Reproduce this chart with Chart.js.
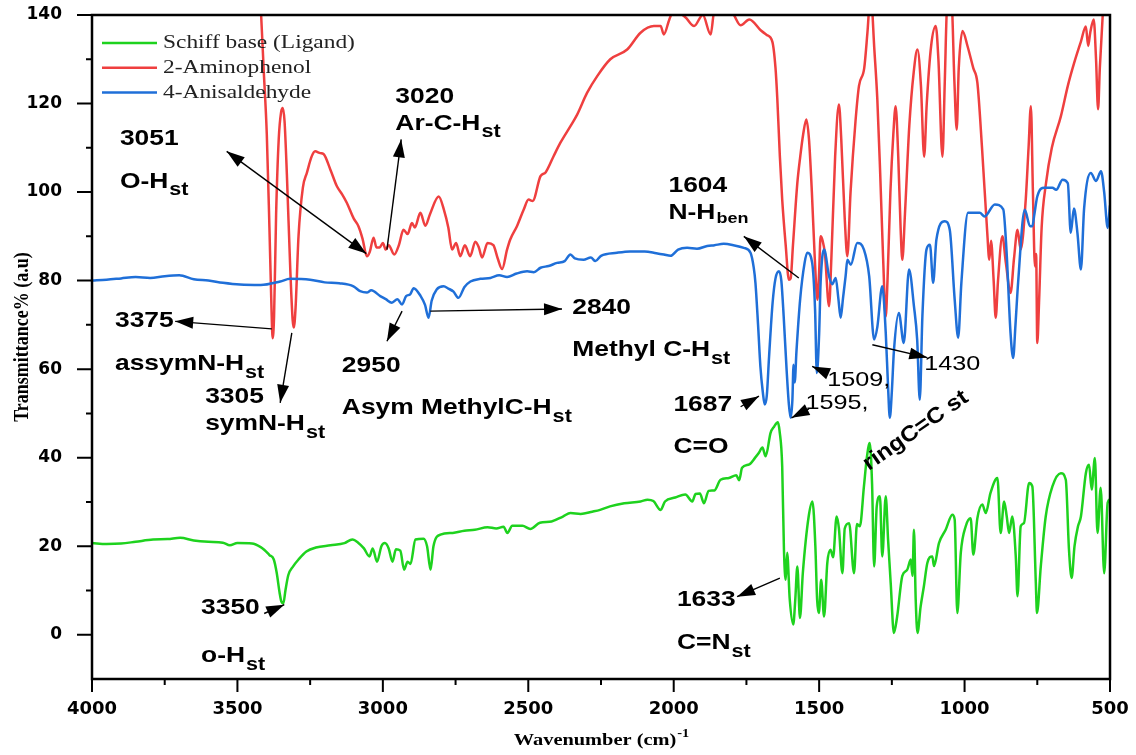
<!DOCTYPE html>
<html>
<head>
<meta charset="utf-8">
<script src="https://cdn.jsdelivr.net/npm/chart.js@4.4.0/dist/chart.umd.min.js"></script>
<style>
  html, body { margin: 0; padding: 0; background: #ffffff; }
  #wrap { width: 1136px; height: 755px; }
</style>
</head>
<body>
<div id="wrap"><canvas id="irChart" width="1136" height="755"></canvas></div>
<script>
// SERIES NAMES
var seriesNames = ['Schiff base (Ligand)', '2-Aminophenol', '4-Anisaldehyde'];
var seriesColors = ['#1ed21e', '#ef3f3f', '#1f6fd8'];

// SPECTRA  [wavenumber cm-1, transmittance]
var greenPts = [
  [4000,20.7],[3950,20.5],[3900,20.6],[3850,21.0],[3790,21.5],[3740,21.6],[3697,21.9],[3650,21.3],[3600,21.0],[3550,20.8],
  [3526,20.2],[3500,20.7],[3450,20.6],[3420,19.8],[3408,19.2],[3390,18.0],[3375,17.0],[3365,14.0],[3355,9.5],[3349,7.5],
  [3342,7.1],[3335,10.0],[3325,13.5],[3309,15.4],[3290,17.0],[3263,18.8],[3230,19.7],[3180,20.2],[3132,20.7],[3105,21.5],
  [3085,20.8],[3065,19.5],[3046,17.7],[3035,19.5],[3020,16.5],[3005,20.0],[2993,20.7],[2980,19.5],[2967,16.5],[2955,19.3],
  [2940,19.0],[2927,14.7],[2915,16.5],[2905,16.0],[2888,21.5],[2860,21.7],[2848,20.0],[2836,14.7],[2826,20.0],[2802,22.6],
  [2760,23.0],[2720,23.5],[2684,23.7],[2640,24.3],[2610,24.0],[2585,24.4],[2572,23.0],[2555,24.6],[2520,24.6],[2493,23.9],
  [2460,25.3],[2420,25.6],[2381,26.7],[2355,27.5],[2320,27.3],[2280,27.8],[2253,28.2],[2219,29.0],[2170,29.7],[2114,30.1],
  [2090,30.5],[2070,30.2],[2045,28.2],[2030,30.1],[1995,31.0],[1960,31.7],[1936,30.1],[1925,31.8],[1910,31.9],[1896,29.7],
  [1880,32.5],[1860,32.6],[1839,35.0],[1810,35.4],[1785,36.0],[1775,34.9],[1765,37.7],[1740,38.5],[1720,40.0],[1707,41.1],
  [1695,42.3],[1684,40.3],[1667,45.6],[1655,47.0],[1642,48.0],[1636,46.0],[1627,38.0],[1621,19.2],[1615,12.4],[1610,18.5],
  [1601,7.9],[1589,2.3],[1582,8.0],[1575,15.4],[1566,3.8],[1556,14.0],[1536,26.7],[1523,30.1],[1513,20.0],[1507,8.0],
  [1501,4.9],[1493,12.4],[1483,4.1],[1472,16.2],[1461,19.2],[1452,17.5],[1440,26.7],[1432,24.0],[1420,13.9],[1412,24.0],
  [1397,25.2],[1380,13.9],[1370,25.0],[1360,24.5],[1346,33.5],[1336,40.0],[1326,43.3],[1318,34.0],[1311,15.4],[1302,29.0],
  [1291,31.3],[1283,17.7],[1271,31.3],[1263,21.5],[1254,11.7],[1243,0.4],[1232,4.0],[1214,13.3],[1197,14.7],[1185,17.0],
  [1179,13.3],[1174,23.7],[1168,7.9],[1162,0.4],[1151,6.4],[1140,10.9],[1128,16.2],[1111,17.7],[1105,15.5],[1088,20.7],
  [1065,23.7],[1042,27.1],[1034,26.0],[1025,4.9],[1013,18.5],[996,24.5],[979,26.3],[970,18.1],[956,26.3],[939,29.4],
  [927,27.5],[911,32.0],[887,35.4],[876,23.0],[864,30.1],[855,26.7],[847,23.0],[836,26.7],[824,17.7],[818,8.7],
  [807,24.5],[796,25.2],[778,34.3],[767,33.5],[755,11.7],[751,4.9],[738,15.4],[721,26.7],[698,33.5],[669,36.5],
  [652,35.0],[641,19.2],[632,12.8],[622,20.0],[610,24.5],[600,26.7],[583,36.5],[572,38.4],[563,32.8],[552,39.9],
  [543,23.0],[532,33.2],[520,13.9],[508,29.8],[500,30.6]
];

var redPts = [
  [3440,160],[3420,142],[3410,128],[3399,113],[3390,92],[3383,74],[3379,67],[3374,72],[3367,95],[3358,112],
  [3350,118],[3344,119],[3338,116],[3330,104],[3318,82],[3310,71],[3306,69.4],[3300,74],[3290,90],[3275,101],
  [3261,104.4],[3245,108],[3233,109.2],[3215,108.8],[3204,108.6],[3180,105],[3158,101.3],[3140,99.5],[3124,97.6],[3100,94],
  [3084,92.3],[3070,89.5],[3055,85.5],[3045,86.5],[3032,89.7],[3022,87.5],[3011,87.5],[3000,88.5],[2990,87],[2980,88],
  [2961,85.9],[2945,88],[2929,91.5],[2915,90.5],[2900,93],[2890,92],[2871,95.3],[2854,92.4],[2838,95],[2808,99],
  [2790,96],[2775,92],[2762,87],[2748,88.5],[2734,85.5],[2718,88],[2700,85.5],[2682,88.8],[2670,87.5],[2659,85.2],
  [2640,88.5],[2620,88],[2605,85],[2590,82.6],[2573,87],[2562,89.3],[2539,92.3],[2516,96],[2499,98.3],[2485,98],
  [2458,103.6],[2440,104.5],[2413,108.1],[2390,111.1],[2355,114.9],[2332,117.5],[2298,122.4],[2263,126.2],[2218,130],[2160,132.2],
  [2114,136],[2068,137.5],[2045,137.5],[2034,135.6],[2015,139],[2000,141],[1960,139.5],[1930,137.5],[1900,140],[1873,135.6],
  [1860,141],[1800,140.5],[1770,137.7],[1740,139],[1700,136.5],[1680,135.5],[1661,134],[1650,128],[1644,121.3],[1635,108],
  [1627,98.3],[1615,88],[1604,80.2],[1598,80.5],[1590,88],[1575,102],[1565,108],[1555,113],[1544,116.4],[1535,112],
  [1525,100],[1515,85],[1506,75.7],[1500,82],[1495,90],[1488,89],[1480,86],[1466,74.2],[1458,85],[1445,108],
  [1432,119.8],[1424,112],[1412,94],[1403,85.5],[1392,100],[1375,116],[1363,124],[1345,128],[1334,136],[1323,145],
  [1310,132],[1300,121],[1290,104],[1280,85],[1271,71.9],[1265,80],[1255,100],[1245,113],[1237,119.4],[1228,108],
  [1220,92],[1214,84.7],[1205,95],[1190,115],[1175,127],[1162,132.2],[1150,124],[1139,108],[1130,120],[1115,133],
  [1099,137.5],[1090,130],[1076,108],[1068,125],[1060,142],[1045,143],[1035,125],[1027,114.1],[1020,128],[1007,136.4],
  [990,133],[970,128],[956,124.7],[940,110],[922,90.8],[915,84.7],[909,89],[900,80],[893,71.6],[885,80],
  [870,90],[858,84],[842,77.2],[830,85],[818,91.5],[807,87],[790,98],[780,110],[772,119.4],[765,100],
  [758,83.2],[754,86],[750,65.9],[744,75],[735,92],[720,102],[700,110],[669,117.1],[645,124],[624,129],
  [600,134],[583,137.4],[575,133],[568,136],[556,139],[548,130],[541,118.7],[535,128],[525,140],[515,148],
  [500,155]
];

var bluePts = [
  [4000,80.0],[3950,80.2],[3900,80.5],[3850,80.8],[3800,80.6],[3750,81.0],[3700,81.2],[3650,80.3],[3600,80.0],[3550,79.5],
  [3491,79.1],[3420,79.0],[3353,79.8],[3319,80.4],[3250,80.2],[3200,79.6],[3150,79.4],[3101,78.7],[3078,77.6],[3055,77.3],
  [3040,77.8],[3009,76.5],[2990,75.8],[2969,75.0],[2950,75.8],[2934,74.6],[2920,76.5],[2906,76.9],[2894,78.3],[2870,76.5],
  [2855,74.5],[2843,71.6],[2832,75.5],[2815,78.0],[2791,78.7],[2775,78.2],[2757,77.5],[2740,76.1],[2720,78.5],[2699,79.8],
  [2665,80.4],[2630,80.6],[2600,81.2],[2573,80.8],[2540,81.6],[2504,82.1],[2481,81.9],[2458,82.9],[2430,83.3],[2401,84.0],
  [2375,84.4],[2355,85.9],[2340,85.0],[2310,84.7],[2285,85.2],[2269,84.4],[2250,85.6],[2195,86.3],[2150,86.6],[2100,86.6],
  [2060,86.2],[2034,85.9],[2011,85.6],[1985,87.0],[1954,87.4],[1920,87.2],[1885,87.8],[1860,88.0],[1828,88.3],[1795,88.0],
  [1759,87.4],[1736,86.3],[1725,83.0],[1719,79.5],[1710,70.0],[1702,60.6],[1694,55.0],[1687,52.0],[1680,54.0],[1672,63.0],
  [1660,75.0],[1650,80.5],[1638,82.1],[1630,80.0],[1622,72.0],[1612,60.0],[1604,52.0],[1598,49.0],[1592,53.0],[1588,61.0],
  [1584,57.0],[1578,64.0],[1565,76.0],[1550,84.0],[1541,86.3],[1524,84.0],[1514,73.5],[1508,59.1],[1500,68.0],[1495,79.5],
  [1483,87.0],[1466,81.0],[1455,79.2],[1443,80.6],[1434,76.0],[1426,71.6],[1418,76.0],[1409,81.0],[1403,84.7],[1391,83.6],
  [1369,88.5],[1346,87.0],[1328,81.0],[1311,66.7],[1300,69.5],[1283,78.7],[1271,68.2],[1263,56.0],[1257,49.0],[1250,55.0],
  [1243,64.0],[1226,72.7],[1209,65.9],[1191,82.5],[1174,74.2],[1163,66.7],[1154,53.1],[1145,72.0],[1131,87.0],[1119,88.1],
  [1108,79.5],[1097,89.2],[1068,93.4],[1051,91.5],[1034,75.7],[1022,67.1],[1011,79.5],[988,95.3],[948,95.3],[931,94.5],
  [896,97.2],[867,96.1],[856,87.0],[842,68.2],[833,62.5],[825,70.0],[816,79.5],[793,96.0],[775,92.3],[767,92.3],
  [760,95.0],[750,99.0],[725,101.0],[698,101.0],[685,100.5],[663,102.8],[645,102.0],[635,90.8],[624,96.3],[612,90.8],
  [600,82.5],[589,96.3],[566,104.3],[548,102.5],[531,104.7],[520,100.0],[508,91.9],[500,97.0]
];

// AXES
var xTickValues = [4000, 3500, 3000, 2500, 2000, 1500, 1000, 500];
var yTickValues = [0, 20, 40, 60, 80, 100, 120, 140];

// PEAK LABELS  (text, subscript, wavenumber, transmittance)
var boldLabels = [
  ['3051', '', 3904, 112.1], ['O-H', 'st', 3904, 102.4],
  ['3020', '', 2957, 121.5], ['Ar-C-H', 'st', 2957, 115.5],
  ['3375', '', 3921, 70.8], ['assymN-H', 'st', 3921, 61.2],
  ['3305', '', 3611, 53.7], ['symN-H', 'st', 3611, 47.7],
  ['2950', '', 3141, 60.8], ['Asym MethylC-H', 'st', 3141, 51.2],
  ['2840', '', 2349, 73.8], ['Methyl C-H', 'st', 2349, 64.3],
  ['1604', '', 2018, 101.4], ['N-H', 'ben', 2018, 95.3],
  ['1687', '', 2001, 52.0], ['C=O', '', 2001, 42.5],
  ['1633', '', 1989, 7.8], ['C=N', 'st', 1989, -1.8],
  ['3350', '', 3625, 6.0], ['o-H', 'st', 3625, -4.8]
];
var plainLabels = [
  ['1595,', 1547, 52.2], ['1509,', 1472, 57.6], ['1430', 1139, 61.2]
];
var tiltedLabels = [
  ['ringC=C st', 1168, 46.1]
];

// ARROWS  (from wn, from T, to wn, to T, head at start too)
var arrows = [
  [3537, 109.2, 3057, 86.1, true],
  [2986, 87.0, 2937, 111.9, false],
  [3382, 69.1, 3714, 70.8, false],
  [3313, 68.2, 3353, 52.4, false],
  [2934, 73.1, 2986, 66.3, false],
  [2837, 73.1, 2384, 73.6, false],
  [1570, 80.6, 1759, 90.0, false],
  [1770, 51.5, 1707, 53.9, false],
  [1535, 51.0, 1595, 49.0, false],
  [1473, 59.1, 1524, 60.6, false],
  [1317, 65.5, 1128, 62.6, false],
  [1635, 12.8, 1782, 8.6, false],
  [3408, 4.8, 3339, 6.8, false]
];

function toPoints(pts) {
  return pts.map(function(p) { return { x: p[0], y: p[1] }; });
}

// text stretched sideways like the original figure
function wideText(ctx, str, x, y, font, sx) {
  ctx.save();
  ctx.translate(x, y);
  ctx.scale(sx, 1);
  ctx.font = font;
  ctx.fillText(str, 0, 0);
  var w = ctx.measureText(str).width * sx;
  ctx.restore();
  return w;
}

function arrowHead(ctx, x1, y1, x2, y2, len, half) {
  var ang = Math.atan2(y2 - y1, x2 - x1);
  ctx.beginPath();
  ctx.moveTo(x2, y2);
  ctx.lineTo(x2 - len * Math.cos(ang) + half * Math.sin(ang), y2 - len * Math.sin(ang) - half * Math.cos(ang));
  ctx.lineTo(x2 - len * Math.cos(ang) - half * Math.sin(ang), y2 - len * Math.sin(ang) + half * Math.cos(ang));
  ctx.closePath();
  ctx.fill();
}

var decorPlugin = {
  id: 'irDecor',
  afterDatasetsDraw: function(chart) {
    var ctx = chart.ctx;
    var a = chart.chartArea;
    var xs = chart.scales.x;
    var ys = chart.scales.y;
    ctx.save();
    ctx.fillStyle = '#000';
    ctx.strokeStyle = '#000';

    //FRAME
    ctx.lineWidth = 2.5;
    ctx.strokeRect(a.left, a.top, a.right - a.left, a.bottom - a.top);

    //TICKS
    ctx.lineWidth = 2;
    ctx.beginPath();
    xTickValues.forEach(function(v, i) {
      var px = xs.getPixelForValue(v);
      ctx.moveTo(px, a.bottom);
      ctx.lineTo(px, a.bottom + 13);
      if (i < xTickValues.length - 1) {
        var mx = xs.getPixelForValue((v + xTickValues[i + 1]) / 2);
        ctx.moveTo(mx, a.bottom);
        ctx.lineTo(mx, a.bottom + 6);
      }
    });
    yTickValues.forEach(function(v, i) {
      var py = ys.getPixelForValue(v);
      ctx.moveTo(a.left, py);
      ctx.lineTo(a.left - 15, py);
      if (i < yTickValues.length - 1) {
        var my = ys.getPixelForValue((v + yTickValues[i + 1]) / 2);
        ctx.moveTo(a.left, my);
        ctx.lineTo(a.left - 6, my);
      }
    });
    ctx.stroke();

    //AXIS TITLES
    ctx.textBaseline = 'middle';
    ctx.textAlign = 'left';
    var tFont = 'bold 17px "Liberation Serif", "Times New Roman", serif';
    var supFont = 'bold 12px "Liberation Serif", "Times New Roman", serif';
    ctx.font = tFont;
    var w1 = ctx.measureText('Wavenumber (cm)').width * 1.2;
    ctx.font = supFont;
    var w2 = ctx.measureText('-1').width * 1.2;
    var cx = (a.left + a.right) / 2;
    var tx = cx - (w1 + w2) / 2;
    wideText(ctx, 'Wavenumber (cm)', tx, 741, tFont, 1.2);
    wideText(ctx, '-1', tx + w1 + 1, 734, supFont, 1.2);

    ctx.save();
    ctx.translate(22, 337);
    ctx.rotate(-Math.PI / 2);
    ctx.scale(1, 1.2);
    ctx.textAlign = 'center';
    ctx.font = 'bold 18px "Liberation Serif", "Times New Roman", serif';
    ctx.fillText('Transmittance% (a.u)', 0, 0);
    ctx.restore();

    //LEGEND
    chart.data.datasets.forEach(function(ds, i) {
      var ly = a.top + 28 + i * 24.7;
      ctx.strokeStyle = ds.borderColor;
      ctx.lineWidth = 2.5;
      ctx.beginPath();
      ctx.moveTo(a.left + 10, ly);
      ctx.lineTo(a.left + 65, ly);
      ctx.stroke();
      ctx.fillStyle = '#222';
      wideText(ctx, ds.label, a.left + 71, ly, '19.5px "Liberation Serif", "Times New Roman", serif', 1.2);
    });

    //PEAK LABELS
    ctx.fillStyle = '#000';
    var bFont = 'bold 22px "Liberation Sans", Arial, sans-serif';
    boldLabels.forEach(function(l) {
      var px = xs.getPixelForValue(l[2]);
      var py = ys.getPixelForValue(l[3]);
      var w = wideText(ctx, l[0], px, py, bFont, 1.2);
      if (l[1]) {
        var small = l[1] === 'ben';
        wideText(ctx, l[1], px + w + 1, py + (small ? 6 : 9),
          'bold ' + (small ? 15 : 18) + 'px "Liberation Sans", Arial, sans-serif', 1.2);
      }
    });
    plainLabels.forEach(function(l) {
      wideText(ctx, l[0], xs.getPixelForValue(l[1]), ys.getPixelForValue(l[2]),
        '21px "Liberation Sans", Arial, sans-serif', 1.2);
    });
    tiltedLabels.forEach(function(l) {
      ctx.save();
      ctx.translate(xs.getPixelForValue(l[1]), ys.getPixelForValue(l[2]));
      ctx.rotate(-35 * Math.PI / 180);
      ctx.scale(1.1, 1);
      ctx.textAlign = 'center';
      ctx.font = bFont;
      ctx.fillText(l[0], 0, 0);
      ctx.restore();
    });

    //ARROWS
    ctx.lineWidth = 1.4;
    ctx.strokeStyle = '#000';
    arrows.forEach(function(r) {
      var x1 = xs.getPixelForValue(r[0]), y1 = ys.getPixelForValue(r[1]);
      var x2 = xs.getPixelForValue(r[2]), y2 = ys.getPixelForValue(r[3]);
      ctx.beginPath();
      ctx.moveTo(x1, y1);
      ctx.lineTo(x2, y2);
      ctx.stroke();
      arrowHead(ctx, x1, y1, x2, y2, 18, 6);
      if (r[4]) arrowHead(ctx, x2, y2, x1, y1, 18, 6);
    });
    ctx.restore();
  }
};

var ctxir = document.getElementById('irChart').getContext('2d');
var irChart = new Chart(ctxir, {
  type: 'line',
  data: {
    datasets: [{
      label: seriesNames[0],
      data: toPoints(greenPts),
      borderColor: seriesColors[0],
      order: 3
    }, {
      label: seriesNames[1],
      data: toPoints(redPts),
      borderColor: seriesColors[1],
      order: 2
    }, {
      label: seriesNames[2],
      data: toPoints(bluePts),
      borderColor: seriesColors[2],
      order: 1
    }]
  },
  options: {
    responsive: false,
    animation: false,
    layout: { padding: { top: 15, right: 26, left: 0, bottom: 0 } },
    elements: {
      line: { borderWidth: 2.5, cubicInterpolationMode: 'monotone', fill: false },
      point: { radius: 0 }
    },
    datasets: { line: { clip: 0 } },
    plugins: {
      legend: { display: false },
      tooltip: { enabled: false }
    },
    scales: {
      x: {
        type: 'linear',
        reverse: true,
        min: 500,
        max: 4000,
        afterBuildTicks: function(scale) {
          scale.ticks = xTickValues.map(function(v) { return { value: v }; });
        },
        afterFit: function(scale) { scale.height = 76; },
        // tick marks are drawn by irDecor; tickLength only pushes the labels down
        grid: { display: false, drawTicks: true, tickLength: 18 },
        border: { display: false },
        ticks: {
          autoSkip: false,
          maxRotation: 0,
          padding: 2,
          color: '#000',
          font: { family: '"DejaVu Sans", sans-serif', size: 18, weight: 'bold' },
          callback: function(v) { return String(v); }
        }
      },
      y: {
        min: -10,
        max: 140,
        afterBuildTicks: function(scale) {
          scale.ticks = yTickValues.map(function(v) { return { value: v }; });
        },
        afterFit: function(scale) { scale.width = 92; },
        grid: { display: false, drawTicks: true, tickLength: 27 },
        border: { display: false },
        ticks: {
          padding: 3,
          color: '#000',
          font: { family: '"DejaVu Sans", sans-serif', size: 17, weight: 'bold' },
          callback: function(v) { return String(v); }
        }
      }
    }
  },
  plugins: [decorPlugin]
});
</script>
</body>
</html>
